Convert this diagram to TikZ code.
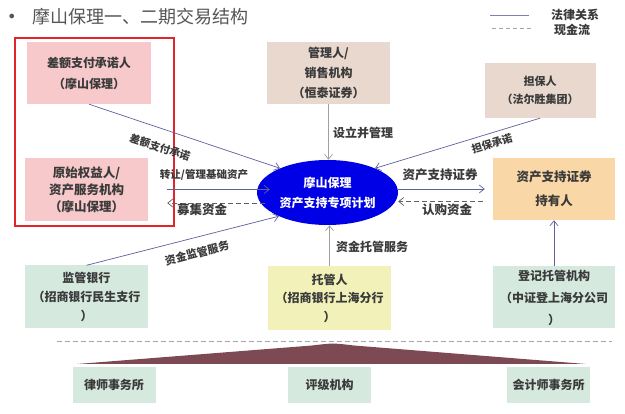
\documentclass[tikz,border=0pt]{standalone}
\usepackage{fontspec}
\usetikzlibrary{arrows.meta,shapes.geometric}
\newfontfamily\cjk{Noto Sans CJK SC}
\definecolor{pinkfill}{HTML}{F7C9CB}
\definecolor{beigefill}{HTML}{E8D8CE}
\definecolor{orangefill}{HTML}{FAD7A6}
\definecolor{greenfill}{HTML}{D5E9DF}
\definecolor{yellowfill}{HTML}{F2F1BA}
\definecolor{planblue}{HTML}{0000E6}
\definecolor{linecol}{HTML}{5D6199}
\definecolor{graycol}{HTML}{A0A0A0}
\definecolor{txt}{HTML}{3A3A3A}
\definecolor{redbox}{HTML}{E1252B}
\definecolor{wedge}{HTML}{7D4A53}
\definecolor{titlecol}{HTML}{555555}
\tikzset{
  party/.style={rectangle, inner sep=0pt, align=center, text=txt,
    font=\cjk\bfseries\fontsize{12}{19}\selectfont},
  lbl/.style={inner sep=0pt, text=txt, font=\cjk\bfseries\fontsize{12}{14}\selectfont},
  arr/.style={draw=linecol, line width=0.7pt, -{Straight Barb[length=5pt,width=8pt]}},
  cash/.style={draw=txt!80, line width=0.7pt, dash pattern=on 5pt off 3pt, -{Straight Barb[length=5pt,width=8pt]}},
}
\begin{document}
\begin{tikzpicture}[x=1pt,y=-1pt]
\useasboundingbox[fill=white] (0,0) rectangle (625,414);

% title
\node[text=titlecol, font=\fontsize{12}{12}\selectfont] (bullet) at (12,17) {$\bullet$};
\node[anchor=west, inner sep=0pt, text=titlecol, font=\cjk\fontsize{18}{20}\selectfont] (title) at (32,17) {摩山保理一、二期交易结构};

% legend
\coordinate (l1a) at (490,15); \coordinate (l1b) at (529,15);
\coordinate (l2a) at (492,28); \coordinate (l2b) at (532,28);
\draw[linecol!80, line width=0.6pt] (l1a) -- (l1b);
\draw[gray!70, line width=0.6pt, dash pattern=on 4pt off 3pt] (l2a) -- (l2b);
\node[lbl] (leg1) at (575,15) {法律关系};
\node[lbl] (leg2) at (572,30) {现金流};

% red box
\draw[redbox, line width=2pt] (15,38) rectangle (174,226);

% parties
\node[party, fill=pinkfill, minimum width=124pt, minimum height=62pt, font=\cjk\bfseries\fontsize{12}{21}\selectfont] (pay) at (89,73) {差额支付承诺人\\（摩山保理）};
\node[party, fill=pinkfill, minimum width=123pt, minimum height=63pt, font=\cjk\bfseries\fontsize{12.5}{17}\selectfont] (orig) at (86.5,189.5) {原始权益人/\\资产服务机构\\（摩山保理）};
\node[party, fill=beigefill, minimum width=123pt, minimum height=62pt, font=\cjk\bfseries\fontsize{12}{20}\selectfont] (mgr) at (328.5,73) {管理人/\\销售机构\\（恒泰证券）};
\node[party, fill=beigefill, minimum width=111pt, minimum height=55pt, font=\cjk\bfseries\fontsize{11}{18}\selectfont] (guar) at (540,90.5) {担保人\\（法尔胜集团）};
\node[party, fill=orangefill, minimum width=122pt, minimum height=62pt, font=\cjk\bfseries\fontsize{12.5}{24}\selectfont] (holder) at (554,189) {资产支持证券\\持有人};
\node[party, fill=greenfill, minimum width=123pt, minimum height=63pt, font=\cjk\bfseries\fontsize{12}{19}\selectfont] (bank) at (86.5,297) {监管银行\\（招商银行民生支行\\）};
\node[party, fill=yellowfill, minimum width=123pt, minimum height=64pt, font=\cjk\bfseries\fontsize{12}{18.5}\selectfont] (cust) at (329.5,298) {托管人\\（招商银行上海分行\\）};
\node[party, fill=greenfill, minimum width=122pt, minimum height=62pt, font=\cjk\bfseries\fontsize{12}{22}\selectfont] (reg) at (554,297.5) {登记托管机构\\（中证登上海分公司\\）};

% plan ellipse
\node[ellipse, fill=planblue, minimum width=141pt, minimum height=65pt, inner sep=0pt, align=center, text=white, font=\cjk\bfseries\fontsize{12}{20}\selectfont] (plan) at (327.5,192.5) {摩山保理\\资产支持专项计划};

% service providers
\draw[dash pattern=on 5pt off 3pt, gray!70, line width=0.6pt] (57,341) -- (612,341);
\fill[wedge] (77,364) -- (312,345.5) .. controls (333,343) .. (354,345.5) -- (586,364) -- cycle;
\node[party, fill=greenfill, minimum width=83pt, minimum height=36pt] (law) at (114,385) {律师事务所};
\node[party, fill=greenfill, minimum width=83pt, minimum height=36pt] (rate) at (329.5,385) {评级机构};
\node[party, fill=greenfill, minimum width=83pt, minimum height=36pt] (acct) at (548.5,385) {会计师事务所};

% connectors
\draw[arr] (pay.south) -- (plan.153);
\draw[arr] ([xshift=19pt]orig.east) -- ([xshift=13pt]orig.east -| plan.west);
\draw[cash] ([xshift=8pt,yshift=-13.5pt]orig.east -| plan.west) -- ([xshift=19pt,yshift=-13.5pt]orig.east);
\draw[arr] (bank.north) -- (plan.206);
\draw[arr, draw=graycol] (mgr.south) -- (mgr.south |- plan.north);
\draw[arr] (guar.south) -- (plan.27);
\draw[arr] (holder.west -| plan.east) -- ([xshift=-8pt]holder.west);
\draw[cash] ([xshift=-10pt,yshift=-12.5pt]holder.west) -- ([yshift=-12.5pt]holder.west -| plan.east);
\draw[arr, draw=graycol] (cust.north) -- (cust.north |- plan.south);
\draw[arr] (reg.north) -- (holder.south);

% connector labels
\node[lbl, rotate=-18, font=\cjk\bfseries\fontsize{10.5}{12}\selectfont] (l-pay) at (160,147.5) {差额支付承诺};
\node[lbl, font=\cjk\bfseries\fontsize{10.5}{12}\selectfont] (l-trans) at (204,175) {转让/管理基础资产};
\node[lbl, font=\cjk\bfseries\fontsize{12.5}{14}\selectfont] (l-raise) at (202,210) {募集资金};
\node[lbl, rotate=14.5, font=\cjk\bfseries\fontsize{11}{12}\selectfont] (l-bank) at (197,253) {资金监管服务};
\node[lbl] (l-mgr) at (363,133) {设立并管理};
\node[lbl, rotate=17, font=\cjk\bfseries\fontsize{10.5}{12}\selectfont] (l-guar) at (492,144) {担保承诺};
\node[lbl, font=\cjk\bfseries\fontsize{12.5}{14}\selectfont] (l-abs) at (440,175) {资产支持证券};
\node[lbl, font=\cjk\bfseries\fontsize{12.5}{14}\selectfont] (l-sub) at (447,210) {认购资金};
\node[lbl] (l-cust) at (372,247) {资金托管服务};
\end{tikzpicture}
\end{document}
